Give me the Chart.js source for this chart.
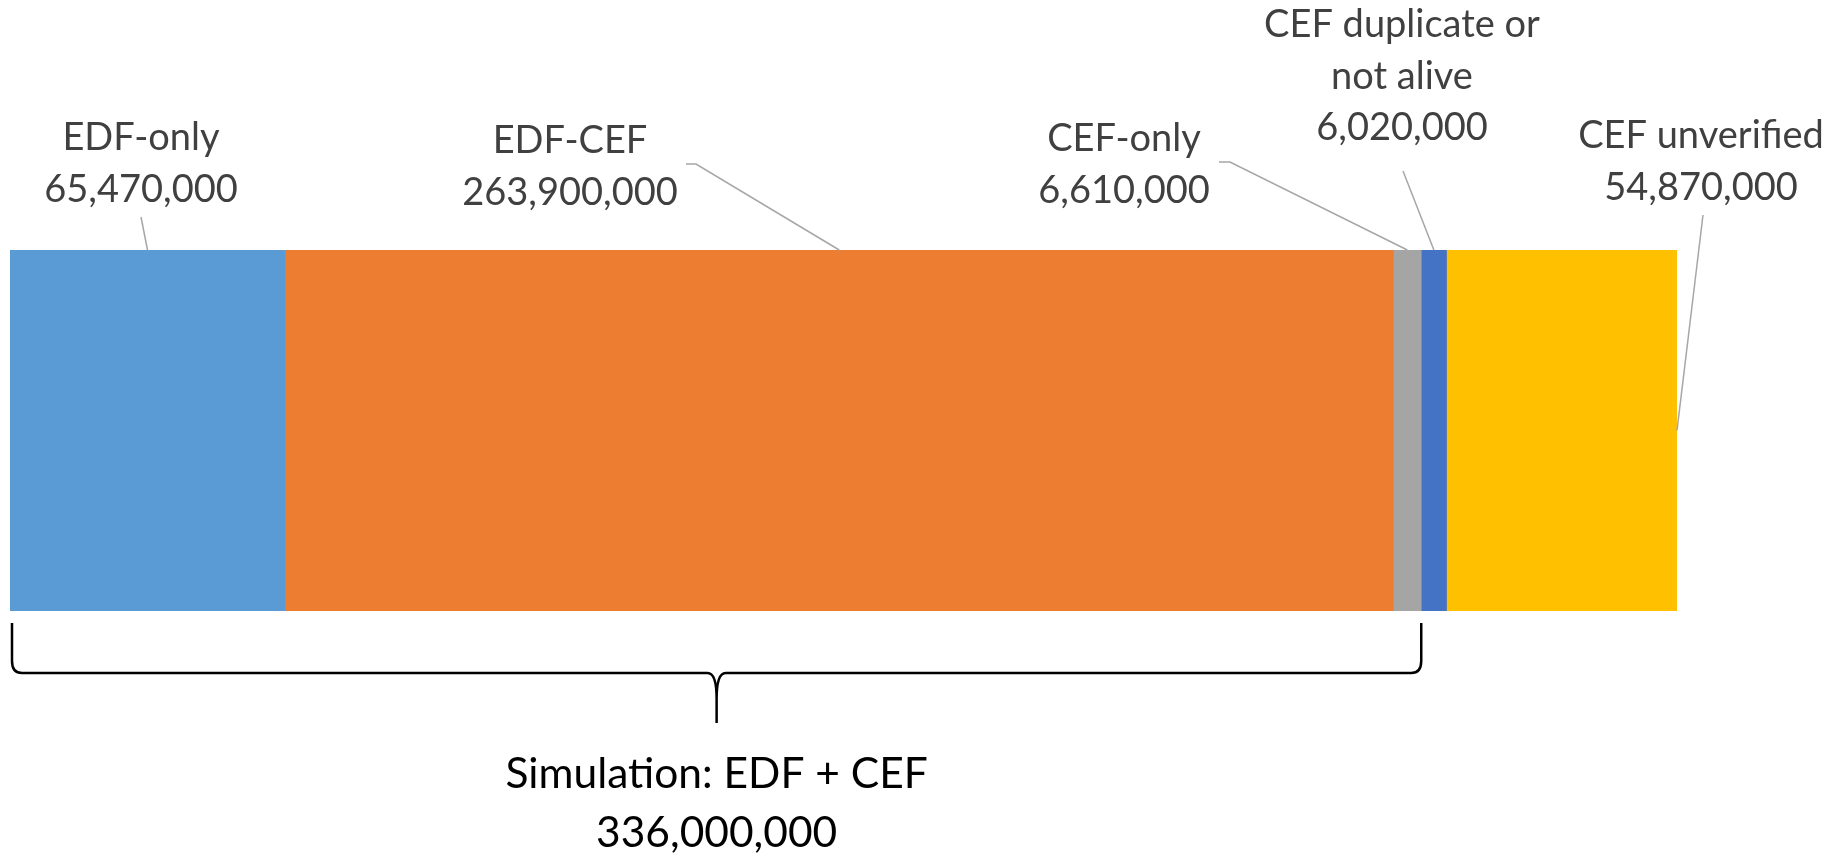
<!DOCTYPE html>
<html>
<head>
<meta charset="utf-8">
<script src="https://cdn.jsdelivr.net/npm/chart.js@4.4.1/dist/chart.umd.min.js"></script>
<style>
  html, body { margin: 0; padding: 0; background: #ffffff; }
  #wrap { width: 1839px; height: 856px; }
</style>
</head>
<body>
<div id="wrap"><canvas id="c" width="1839" height="856"></canvas></div>
<script>
// ---- data ----
const categories = ['Population'];
const seriesNames = ['EDF-only', 'EDF-CEF', 'CEF-only', 'CEF duplicate or\nnot alive', 'CEF unverified'];
const seriesValues = [65470000, 263900000, 6610000, 6020000, 54870000];
const seriesColors = ['#5B9BD5', '#ED7D31', '#A5A5A5', '#4472C4', '#FFC000'];
const bracketLabel = ['Simulation: EDF + CEF'];
const bracketValue = 336000000;
const bracketSeriesCount = 3; // bracket spans the first three segments

// ---- label layout (positions only) ----
const labelLayout = [
  { cx: 141,  y0: 150, leader: [[141, 217]],               anchor: 'top' },
  { cx: 570,  y0: 153, leader: [[686, 164], [696, 164]],   anchor: 'top' },
  { cx: 1124, y0: 151, leader: [[1219, 162], [1230, 162]], anchor: 'top' },
  { cx: 1402, y0: 37,  leader: [[1403, 171]],               anchor: 'top' },
  { cx: 1701, y0: 148, leader: [[1703, 215]],               anchor: 'right' }
];
const LABEL_FONT = '38px Lato';
const LABEL_LINE = 51.5;
const BOTTOM_FONT = '42.5px Lato';

const fmt = v => v.toLocaleString('en-US');
const total = seriesValues.reduce((a, b) => a + b, 0);

const labelPlugin = {
  id: 'labelPlugin',
  afterDatasetsDraw(chart) {
    const ctx = chart.ctx;
    ctx.save();
    // leader lines + labels
    chart.data.datasets.forEach((ds, i) => {
      const el = chart.getDatasetMeta(i).data[0];
      const p = el.getProps(['x', 'y', 'base', 'height'], true);
      const lay = labelLayout[i];
      let ax, ay;
      if (lay.anchor === 'right') { ax = Math.max(p.x, p.base); ay = p.y; }
      else { ax = (p.x + p.base) / 2; ay = p.y - p.height / 2; }
      ctx.strokeStyle = '#A6A6A6';
      ctx.lineWidth = 1.5;
      ctx.beginPath();
      ctx.moveTo(lay.leader[0][0], lay.leader[0][1]);
      for (let k = 1; k < lay.leader.length; k++) ctx.lineTo(lay.leader[k][0], lay.leader[k][1]);
      ctx.lineTo(ax, ay);
      ctx.stroke();

      const lines = ds.label.split('\n').concat([fmt(ds.data[0])]);
      ctx.fillStyle = '#404040';
      ctx.font = LABEL_FONT;
      ctx.textAlign = 'center';
      ctx.textBaseline = 'alphabetic';
      lines.forEach((t, j) => ctx.fillText(t, lay.cx, lay.y0 + j * LABEL_LINE));
    });

    // bracket under the first segments
    const xs = chart.scales.x;
    let partial = 0;
    for (let k = 0; k < bracketSeriesCount; k++) partial += seriesValues[k];
    const xL = xs.getPixelForValue(0) + 2;
    const xR = xs.getPixelForValue(partial);
    const yTop = 623, yH = 673, tip = 723;
    const mid = (xL + xR) / 2;
    ctx.strokeStyle = '#000000';
    ctx.lineWidth = 2.5;
    ctx.beginPath();
    ctx.moveTo(xL, yTop);
    ctx.lineTo(xL, yH - 12);
    ctx.quadraticCurveTo(xL, yH, xL + 10, yH);
    ctx.lineTo(mid - 9, yH);
    ctx.quadraticCurveTo(mid, yH, mid, yH + 26);
    ctx.lineTo(mid, tip);
    ctx.moveTo(mid, yH + 26);
    ctx.quadraticCurveTo(mid, yH, mid + 9, yH);
    ctx.lineTo(xR - 10, yH);
    ctx.quadraticCurveTo(xR, yH, xR, yH - 12);
    ctx.lineTo(xR, yTop);
    ctx.stroke();

    ctx.fillStyle = '#000000';
    ctx.font = BOTTOM_FONT;
    ctx.textAlign = 'center';
    ctx.fillText(bracketLabel[0], mid, 788);
    ctx.fillText(fmt(bracketValue), mid, 847);
    ctx.restore();
  }
};

function draw() {
  new Chart(document.getElementById('c'), {
    type: 'bar',
    data: {
      labels: categories,
      datasets: seriesNames.map((n, i) => ({
        label: n,
        data: [seriesValues[i]],
        backgroundColor: seriesColors[i],
        borderWidth: 0,
        barPercentage: 1,
        categoryPercentage: 1
      }))
    },
    options: {
      indexAxis: 'y',
      responsive: false,
      animation: false,
      devicePixelRatio: 1,
      layout: { padding: { left: 10, right: 162, top: 250, bottom: 245 } },
      scales: {
        x: { stacked: true, display: false, min: 0, max: total },
        y: { stacked: true, display: false }
      },
      plugins: { legend: { display: false }, tooltip: { enabled: false } }
    },
    plugins: [labelPlugin]
  });
}

Promise.all([document.fonts.load(LABEL_FONT), document.fonts.load(BOTTOM_FONT)])
  .then(draw, draw);
</script>
</body>
</html>
